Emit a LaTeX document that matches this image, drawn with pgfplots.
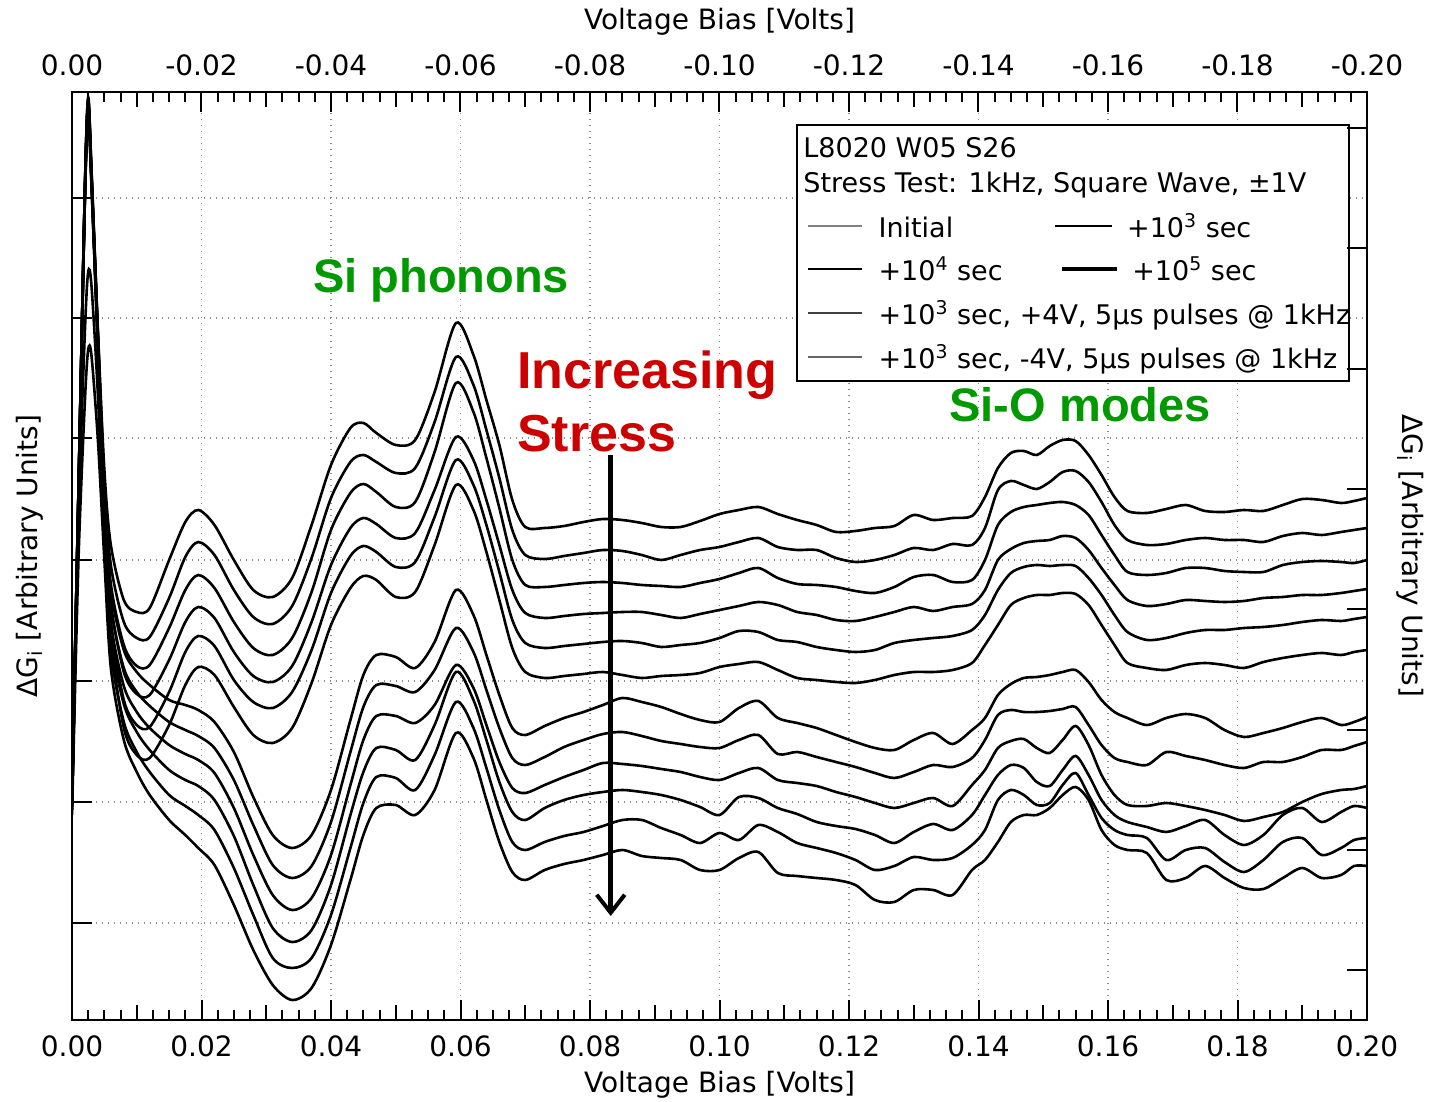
\documentclass[border=0pt]{standalone}
\usepackage{fontspec}
\setmainfont{DejaVu Sans}
\newfontfamily\arialfont{Liberation Sans}
\usepackage{pgfplots}
\usepackage{pgfplotstable}
\pgfplotsset{compat=1.18}
\usetikzlibrary{arrows.meta}
\definecolor{anngreen}{RGB}{0,153,0}
\definecolor{annred}{RGB}{204,0,0}
\tikzset{curve/.style={black, line width=1.3pt, smooth, tension=0.5, mark=none}}

\pgfplotstableread{
x u1 u2 u3 u4 u5 u6
0 -790 -795 -800 -805 -800 -810
0.001 -490 -492 -494 -496 -498 -500
0.002 -185 -187 -190 -192 -195 -198
0.0025 -97 -100 -103 -106 -110 -115
0.003 -168 -170 -173 -176 -178 -182
0.004 -330 -333 -337 -341 -345 -350
0.005 -470 -482 -494 -506 -518 -530
0.006 -545 -565 -584 -603 -622 -640
0.008 -600 -622 -645 -672 -700 -728
0.010 -612 -638 -666 -694 -725 -755
0.012 -608 -637 -665 -695 -727 -758
0.015 -560 -598 -628 -660 -692 -725
0.0175 -522 -557 -590 -622 -652 -685
0.0195 -510 -542 -575 -607 -636 -667
0.022 -525 -555 -588 -618 -646 -675
0.025 -560 -590 -622 -652 -680 -707
0.028 -590 -617 -648 -676 -702 -735
0.031 -597 -624 -655 -682 -708 -743
0.034 -578 -606 -638 -666 -692 -728
0.037 -525 -558 -592 -622 -650 -683
0.040 -465 -498 -530 -565 -593 -625
0.043 -428 -462 -493 -528 -556 -588
0.045 -423 -455 -484 -518 -546 -576
0.047 -433 -462 -492 -524 -552 -580
0.050 -445 -473 -507 -538 -567 -597
0.053 -440 -468 -502 -533 -562 -592
0.056 -392 -422 -452 -490 -517 -545
0.0593 -323 -357 -383 -437 -460 -485
0.062 -355 -385 -412 -460 -485 -510
0.064 -400 -430 -458 -500 -525 -552
0.066 -445 -478 -508 -545 -572 -600
0.068 -500 -530 -560 -590 -620 -648
0.070 -527 -555 -585 -613 -643 -672
0.073 -528 -559 -587 -618 -648 -678
0.076 -526 -556 -585 -616 -646 -676
0.079 -522 -553 -583 -614 -644 -674
0.082 -519 -550 -582 -613 -642 -672
0.085 -520 -551 -583 -612 -641 -675
0.088 -523 -555 -585 -612 -643 -678
0.091 -527 -560 -586 -615 -647 -676
0.094 -527 -555 -587 -618 -645 -675
0.097 -521 -550 -583 -614 -643 -673
0.100 -514 -547 -579 -610 -638 -667
0.103 -510 -542 -573 -606 -631 -664
0.106 -507 -538 -568 -602 -632 -662
0.109 -514 -547 -578 -605 -640 -670
0.112 -520 -550 -584 -612 -642 -678
0.115 -525 -550 -585 -615 -647 -680
0.118 -532 -558 -587 -620 -650 -682
0.121 -531 -562 -591 -621 -652 -683
0.124 -528 -560 -593 -617 -650 -680
0.127 -526 -555 -587 -612 -643 -675
0.130 -515 -548 -577 -607 -640 -672
0.133 -520 -550 -575 -611 -638 -672
0.136 -518 -544 -582 -607 -636 -670
0.139 -516 -545 -580 -604 -630 -663
0.141 -497 -528 -560 -590 -615 -645
0.143 -468 -490 -525 -560 -590 -625
0.145 -453 -481 -512 -549 -573 -605
0.147 -451 -485 -507 -543 -567 -598
0.149 -455 -489 -505 -541 -565 -595
0.151 -446 -482 -503 -540 -566 -595
0.153 -440 -472 -502 -536 -565 -593
0.155 -441 -471 -505 -538 -566 -594
0.157 -455 -482 -515 -550 -578 -605
0.159 -475 -502 -535 -568 -595 -625
0.161 -497 -525 -555 -585 -615 -645
0.163 -511 -540 -572 -600 -632 -663
0.166 -513 -545 -575 -606 -640 -668
0.169 -509 -544 -573 -604 -638 -670
0.172 -505 -540 -568 -600 -633 -665
0.175 -511 -538 -568 -601 -630 -663
0.178 -512 -540 -571 -602 -630 -665
0.181 -510 -540 -572 -601 -628 -668
0.184 -511 -542 -572 -598 -627 -662
0.187 -505 -536 -565 -597 -625 -658
0.190 -499 -533 -562 -595 -622 -655
0.193 -500 -535 -561 -595 -620 -653
0.196 -503 -532 -562 -593 -621 -655
0.198 -501 -530 -563 -591 -619 -652
0.200 -498 -528 -560 -589 -617 -650
}\uppertab

\pgfplotstableread{
x l1 l2 l3 l4 l5 l6
0 -795 -800 -805 -810 -805 -815
0.001 -492 -494 -496 -498 -520 -560
0.002 -187 -190 -192 -195 -330 -400
0.0025 -100 -104 -108 -112 -272 -350
0.003 -172 -176 -180 -184 -285 -355
0.004 -335 -338 -342 -346 -395 -440
0.005 -500 -512 -524 -536 -545 -560
0.006 -590 -606 -622 -638 -652 -668
0.008 -650 -668 -686 -704 -722 -740
0.010 -672 -692 -712 -732 -752 -772
0.012 -685 -706 -728 -750 -772 -795
0.015 -700 -722 -745 -770 -795 -820
0.0175 -705 -730 -754 -780 -806 -835
0.0195 -710 -736 -760 -786 -815 -848
0.022 -722 -748 -773 -800 -830 -865
0.025 -752 -780 -808 -836 -868 -905
0.028 -797 -825 -855 -885 -915 -950
0.031 -835 -865 -895 -928 -958 -985
0.034 -848 -878 -910 -942 -968 -1000
0.037 -835 -866 -898 -930 -958 -988
0.040 -790 -822 -855 -885 -915 -945
0.043 -720 -752 -785 -815 -848 -880
0.045 -675 -707 -740 -772 -803 -835
0.047 -655 -685 -716 -748 -777 -808
0.050 -657 -686 -716 -750 -778 -805
0.053 -668 -692 -723 -760 -790 -815
0.056 -642 -670 -705 -725 -755 -790
0.0593 -590 -628 -665 -672 -702 -733
0.062 -615 -652 -688 -700 -728 -758
0.064 -655 -690 -725 -740 -768 -800
0.066 -695 -728 -762 -782 -810 -842
0.068 -728 -758 -788 -812 -842 -872
0.070 -735 -765 -793 -820 -850 -880
0.073 -726 -757 -785 -808 -842 -870
0.076 -718 -747 -777 -800 -836 -864
0.079 -712 -740 -770 -795 -832 -860
0.082 -705 -734 -763 -792 -826 -855
0.085 -698 -732 -764 -790 -820 -850
0.088 -702 -736 -766 -792 -820 -856
0.091 -707 -741 -769 -795 -828 -858
0.094 -714 -744 -772 -800 -835 -860
0.097 -720 -747 -777 -807 -843 -870
0.100 -722 -748 -780 -815 -833 -870
0.103 -708 -740 -773 -797 -840 -858
0.106 -701 -735 -768 -798 -825 -852
0.109 -718 -754 -780 -808 -832 -873
0.112 -723 -752 -783 -814 -843 -876
0.115 -728 -757 -786 -822 -848 -878
0.118 -735 -762 -792 -826 -853 -880
0.121 -742 -767 -797 -829 -860 -885
0.124 -748 -773 -803 -835 -870 -900
0.127 -750 -778 -808 -843 -866 -902
0.130 -740 -772 -803 -832 -857 -890
0.133 -733 -765 -798 -824 -860 -890
0.136 -744 -767 -806 -830 -858 -895
0.139 -730 -758 -785 -815 -845 -870
0.141 -718 -740 -770 -795 -830 -860
0.143 -695 -715 -748 -775 -800 -842
0.145 -684 -710 -741 -765 -790 -822
0.147 -678 -712 -739 -768 -795 -815
0.149 -677 -712 -748 -782 -805 -815
0.151 -675 -711 -753 -786 -803 -808
0.153 -672 -709 -740 -770 -785 -795
0.155 -670 -707 -726 -756 -773 -787
0.157 -682 -725 -745 -775 -795 -800
0.159 -700 -745 -775 -800 -818 -830
0.161 -712 -758 -795 -815 -830 -845
0.163 -718 -762 -805 -822 -835 -850
0.166 -725 -765 -806 -827 -838 -853
0.169 -718 -752 -803 -832 -860 -880
0.172 -714 -756 -806 -826 -850 -878
0.175 -718 -760 -810 -820 -848 -866
0.178 -730 -765 -815 -835 -862 -878
0.181 -737 -768 -821 -845 -872 -888
0.184 -733 -762 -817 -835 -860 -889
0.187 -728 -762 -812 -815 -842 -878
0.190 -722 -757 -802 -808 -838 -868
0.193 -718 -750 -794 -822 -855 -878
0.196 -725 -750 -790 -812 -848 -875
0.198 -722 -746 -789 -806 -840 -866
0.200 -717 -742 -786 -808 -838 -866
}\lowertab

\begin{document}
\begin{tikzpicture}
\begin{axis}[
  at={(0,0)}, anchor=south west,
  scale only axis, width=647.5pt, height=464pt,
  xmin=0, xmax=0.2, ymin=-1020, ymax=-92,
  xtick={0,0.02,0.04,0.06,0.08,0.10,0.12,0.14,0.16,0.18,0.20},
  xticklabels={0.00,0.02,0.04,0.06,0.08,0.10,0.12,0.14,0.16,0.18,0.20},
  minor x tick num=7,
  extra x ticks={0.01,0.03,0.05,0.07,0.09,0.11,0.13,0.15,0.17,0.19},
  extra x tick labels={},
  extra x tick style={grid=none, major tick length=7.5pt},
  ytick={-923,-802,-681,-560,-438,-318,-198},
  yticklabels={},
  tick pos=left,
  tick align=inside,
  major tick length=10pt, minor tick length=5pt,
  every tick/.append style={black, line width=1pt},
  grid=major,
  major grid style={black!45, line width=0.7pt, dash pattern=on 0.7pt off 2.3pt},
  axis line style={line width=1.3pt},
  xticklabel style={font=\fontsize{14}{17}\selectfont, yshift=-4.3pt},
  xlabel={Voltage Bias [Volts]},
  xlabel style={at={(axis description cs:0.5,-0.070)}, anchor=center, font=\fontsize{14}{17}\selectfont},
  ylabel={ΔG\textsubscript{i} [Arbitrary Units]},
  ylabel style={at={(axis description cs:-0.0324,0.5)}, anchor=center, font=\fontsize{14}{17}\selectfont},
]
\addplot[curve] table[x=x,y=u1]{\uppertab};
\addplot[curve] table[x=x,y=u2]{\uppertab};
\addplot[curve] table[x=x,y=u3]{\uppertab};
\addplot[curve] table[x=x,y=u4]{\uppertab};
\addplot[curve] table[x=x,y=u5]{\uppertab};
\addplot[curve] table[x=x,y=u6]{\uppertab};
\addplot[curve] table[x=x,y=l1]{\lowertab};
\addplot[curve] table[x=x,y=l2]{\lowertab};
\addplot[curve] table[x=x,y=l3]{\lowertab};
\addplot[curve] table[x=x,y=l4]{\lowertab};
\addplot[curve] table[x=x,y=l5]{\lowertab};
\addplot[curve] table[x=x,y=l6]{\lowertab};

% annotations
\node[font=\arialfont\bfseries\fontsize{23.5}{28}\selectfont, text=anngreen] at (axis cs:0.0570,-280) {Si phonons};
\node[font=\arialfont\bfseries\fontsize{26}{31.5}\selectfont, text=annred, align=left, anchor=north west, inner sep=0pt] at (axis cs:0.0687,-350) {Increasing\\Stress};
\node[font=\arialfont\bfseries\fontsize{23.5}{28}\selectfont, text=anngreen] at (axis cs:0.1557,-405) {Si-O modes};
\draw[line width=2.4pt, -{Straight Barb[length=9pt, width=14pt, line width=2pt]}] (axis cs:0.0832,-455) -- (axis cs:0.0832,-916);

% legend box
\draw[line width=1pt, fill=white] (axis cs:0.1120,-125) rectangle (axis cs:0.1972,-381);
\begin{scope}[every node/.style={font=\fontsize{13.5}{16}\selectfont, anchor=base west, inner sep=0pt}]
\node at (axis cs:0.1129,-158) {L8020 W05 S26};
\node at (axis cs:0.1129,-193) {Stress Test: 1kHz, Square Wave, ±1V};
\draw[gray, line width=1.2pt] (axis cs:0.1137,-226) -- (axis cs:0.1220,-226);
\node at (axis cs:0.1245,-238) {Initial};
\draw[black, line width=0.9pt] (axis cs:0.1518,-226) -- (axis cs:0.1606,-226);
\node at (axis cs:0.1629,-238) {+10\textsuperscript{3} sec};
\draw[black, line width=0.9pt] (axis cs:0.1137,-269) -- (axis cs:0.1220,-269);
\node at (axis cs:0.1245,-281) {+10\textsuperscript{4} sec};
\draw[black, line width=1.8pt] (axis cs:0.1529,-269) -- (axis cs:0.1614,-269);
\node at (axis cs:0.1637,-281) {+10\textsuperscript{5} sec};
\draw[black!75, line width=1.4pt] (axis cs:0.1137,-313) -- (axis cs:0.1220,-313);
\node at (axis cs:0.1245,-325) {+10\textsuperscript{3} sec, +4V, 5μs pulses @ 1kHz};
\draw[black!60, line width=1.2pt] (axis cs:0.1137,-357) -- (axis cs:0.1220,-357);
\node at (axis cs:0.1245,-369) {+10\textsuperscript{3} sec, -4V, 5μs pulses @ 1kHz};
\end{scope}
\end{axis}

\begin{axis}[
  at={(0,0)}, anchor=south west,
  scale only axis, width=647.5pt, height=464pt,
  clip=false,
  x dir=reverse, xmin=-0.2, xmax=0, ymin=-1020, ymax=-92,
  xtick={0,-0.02,-0.04,-0.06,-0.08,-0.10,-0.12,-0.14,-0.16,-0.18,-0.20},
  xticklabels={0.00,-0.02,-0.04,-0.06,-0.08,-0.10,-0.12,-0.14,-0.16,-0.18,-0.20},
  minor x tick num=7,
  extra x ticks={-0.01,-0.03,-0.05,-0.07,-0.09,-0.11,-0.13,-0.15,-0.17,-0.19},
  extra x tick labels={},
  extra x tick style={major tick length=7.5pt},
  ytick={-970,-850,-730,-609,-489,-369,-248,-128},
  yticklabels={},
  tick pos=right,
  tick align=inside,
  major tick length=10pt, minor tick length=5pt,
  every tick/.append style={black, line width=1pt},
  axis line style={line width=1.3pt},
  xticklabel style={font=\fontsize{14}{17}\selectfont, yshift=4.3pt},
]
\node[font=\fontsize{14}{17}\selectfont] at (axis description cs:0.5,1.0754) {Voltage Bias [Volts]};
\node[font=\fontsize{14}{17}\selectfont, rotate=-90] at (axis description cs:1.0332,0.5) {ΔG\textsubscript{i} [Arbitrary Units]};
\end{axis}
\pgfresetboundingbox
\path[use as bounding box] (-36pt,-41pt) rectangle (678.5pt,510pt);
\end{tikzpicture}
\end{document}
